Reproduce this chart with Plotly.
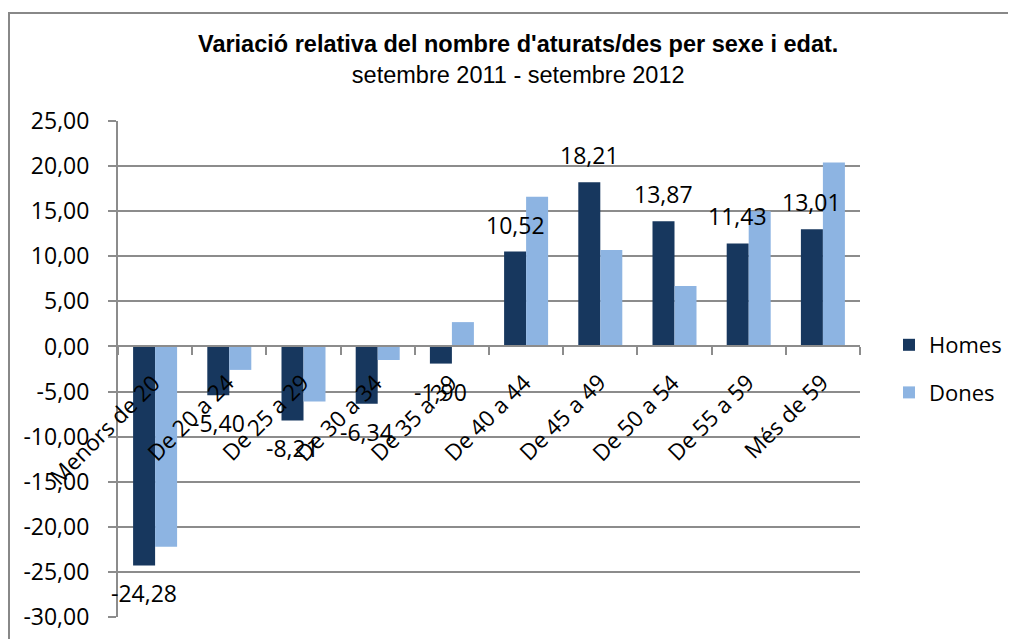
import plotly.graph_objects as go

categories = ["Menors de 20", "De 20 a 24", "De 25 a 29", "De 30 a 34", "De 35 a 39",
              "De 40 a 44", "De 45 a 49", "De 50 a 54", "De 55 a 59", "Més de 59"]
homes = [-24.28, -5.40, -8.21, -6.34, -1.90, 10.52, 18.21, 13.87, 11.43, 13.01]
dones = [-22.2, -2.6, -6.1, -1.5, 2.7, 16.6, 10.7, 6.7, 15.0, 20.4]
y_ticks = [-30, -25, -20, -15, -10, -5, 0, 5, 10, 15, 20, 25]
y_ticktext = [f"{v:.2f}".replace(".", ",") for v in y_ticks]

title = "Variació relativa del nombre d'aturats/des per sexe i edat."
subtitle = "setembre 2011 - setembre 2012"

DARK = "#17375E"
LIGHT = "#8DB4E2"
GRID = "#8C8C8C"
FONT = "Open Sans, Liberation Sans, sans-serif"
TFONT = "Liberation Sans, Arial, sans-serif"

# page body has an 8px default margin; work in page coordinates and subtract it
OFF = 8
W, H = 1016 - OFF, 639 - OFF
ML, MR, MT, MB = 118 - OFF, 1016 - 860, 121 - OFF, 639 - 617
PW, PH = W - ML - MR, H - MT - MB


def py2paper(py):
    return 1 - (py - OFF - MT) / PH


def px2paper(px):
    return (px - OFF - ML) / PW


fig = go.Figure()
fig.add_trace(go.Bar(x=categories, y=homes, name="Homes", legendgroup="h",
                     marker=dict(color=DARK, line=dict(width=0))))
fig.add_trace(go.Bar(x=categories, y=dones, name="Dones", legendgroup="d",
                     marker=dict(color=LIGHT, line=dict(width=0))))

ann = []
# data labels for Homes
for c, v in zip(categories, homes):
    txt = f"{v:.2f}".replace(".", ",")
    ann.append(dict(x=c, y=v, xref="x", yref="y", text=txt, showarrow=False,
                    xshift=-11, yshift=27 if v > 0 else -28,
                    font=dict(family=FONT, size=23, color="#000")))
# category labels near zero line
for c in categories:
    ann.append(dict(x=c, y=0, xref="x", yref="y", text=c, showarrow=False, textangle=-45,
                    xanchor="right", yanchor="top", xshift=14, yshift=-18,
                    font=dict(family=FONT, size=22.5, color="#000")))
# title + subtitle (one text block)
ann.append(dict(x=px2paper(517.5), y=py2paper(60), xref="paper", yref="paper",
                text="<b>" + title + "</b><br>" + subtitle, showarrow=False,
                yanchor="middle", align="center",
                font=dict(family=TFONT, size=23.5, color="#000")))

fig.update_layout(
    width=W, height=H,
    margin=dict(l=ML, r=MR, t=MT, b=MB, autoexpand=False),
    paper_bgcolor="white", plot_bgcolor="white",
    barmode="group", bargap=0.407, bargroupgap=0,
    showlegend=True,
    legend=dict(x=px2paper(889), y=py2paper(369), xanchor="left", yanchor="middle",
                font=dict(family=FONT, size=22, color="#000"),
                itemwidth=30, tracegroupgap=16, bgcolor="rgba(0,0,0,0)"),
    xaxis=dict(range=[-0.5, len(categories) - 0.5], autorange=False,
               anchor="free", position=6 / 11, showticklabels=False, ticks="outside",
               tickson="boundaries", ticklen=8, tickcolor=GRID, tickwidth=2, showline=True,
               linecolor=GRID, linewidth=2, showgrid=False, zeroline=False),
    yaxis=dict(range=[-30, 25], autorange=False, tickvals=y_ticks, ticktext=y_ticktext,
               ticks="outside", ticklen=8, tickcolor=GRID, tickwidth=2, showline=True,
               linecolor=GRID, linewidth=2, gridcolor=GRID, gridwidth=2, zeroline=False,
               ticklabelstandoff=14,
               tickfont=dict(family=FONT, size=23, color="#000")),
    annotations=ann,
)
# outer frame
fig.add_shape(type="rect", xref="paper", yref="paper",
              x0=px2paper(9), x1=px2paper(1040),
              y0=py2paper(660), y1=py2paper(13),
              line=dict(color="#888888", width=2), layer="below")

fig.write_html("out.html")
